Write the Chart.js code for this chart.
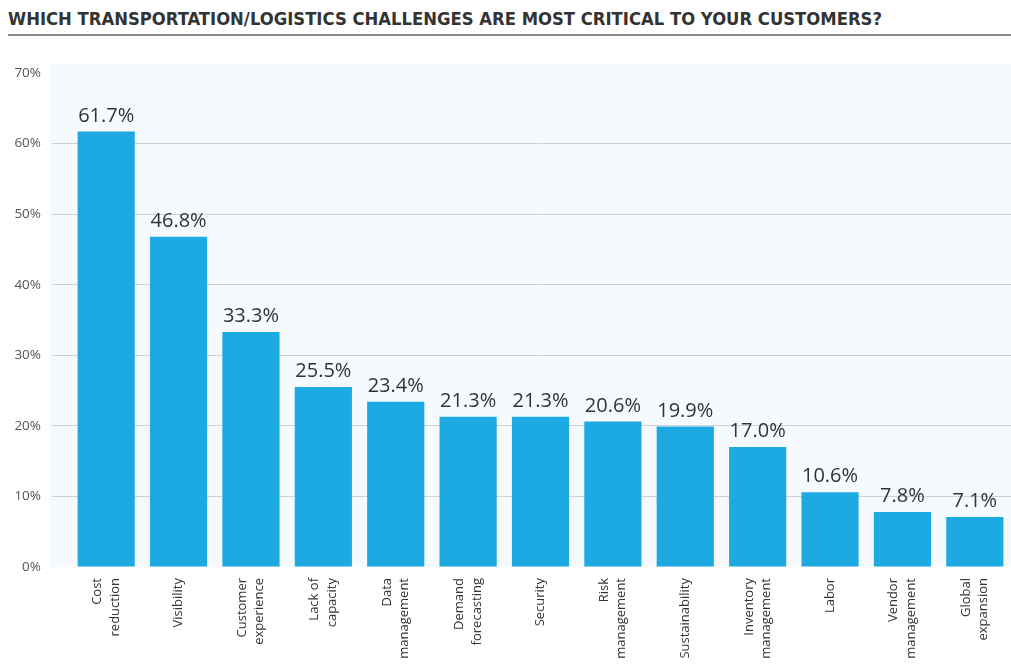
<!DOCTYPE html>
<html>
<head>
<meta charset="utf-8">
<script src="https://cdn.jsdelivr.net/npm/chart.js@4.4.0/dist/chart.umd.min.js"></script>
<style>
  body { margin: 0; background: #fff; width: 1011px; height: 667px; overflow: hidden; position: relative; }
  #title {
    position: absolute; left: 8px; top: 8px; right: 0;
    font-family: "Liberation Sans Narrow", "DejaVu Sans Condensed", sans-serif;
    font-weight: bold; font-size: 18.3px; color: #333; white-space: nowrap;
    padding-bottom: 5px; border-bottom: 2px solid #8a8a8a;
  }
  #wrap { position: absolute; left: 0; top: 0; width: 1011px; height: 667px; }
</style>
</head>
<body>
<div id="title">WHICH TRANSPORTATION/LOGISTICS CHALLENGES ARE MOST CRITICAL TO YOUR CUSTOMERS?</div>
<div id="wrap"><canvas id="chart"></canvas></div>
<script>
// categories as shown under the bars (two lines where the picture wraps)
var categories = [
  ["Cost", "reduction"],
  ["Visibility"],
  ["Customer", "experience"],
  ["Lack of", "capacity"],
  ["Data", "management"],
  ["Demand", "forecasting"],
  ["Security"],
  ["Risk", "management"],
  ["Sustainability"],
  ["Inventory", "management"],
  ["Labor"],
  ["Vendor", "management"],
  ["Global", "expansion"]
];
var percents = [61.7, 46.8, 33.3, 25.5, 23.4, 21.3, 21.3, 20.6, 19.9, 17.0, 10.6, 7.8, 7.1];
var yTicks = [0, 10, 20, 30, 40, 50, 60, 70];

var barColor = "#1daae2";
var font = "'Open Sans', sans-serif";

// light panel behind the plot
var panelPlugin = {
  id: "panel",
  beforeDraw: function(chart) {
    var ctx = chart.ctx, a = chart.chartArea;
    ctx.save();
    ctx.fillStyle = "#f6fafd";
    ctx.fillRect(a.left - 20, a.top - 9, a.right - a.left + 20, a.bottom - a.top + 9);
    ctx.restore();
  }
};

// value labels over each bar
var valueLabels = {
  id: "valueLabels",
  afterDatasetsDraw: function(chart) {
    var ctx = chart.ctx;
    var meta = chart.getDatasetMeta(0);
    ctx.save();
    ctx.font = "20px " + font;
    ctx.fillStyle = "#333";
    ctx.textAlign = "center";
    ctx.textBaseline = "alphabetic";
    meta.data.forEach(function(bar, i) {
      ctx.fillText(percents[i].toFixed(1) + "%", bar.x, bar.y - 10);
    });
    ctx.restore();
  }
};

// vertical category labels, lines centred on the bar
var categoryLabels = {
  id: "categoryLabels",
  afterDraw: function(chart) {
    var ctx = chart.ctx, xs = chart.scales.x;
    var lineGap = 17.5;
    ctx.save();
    ctx.font = "13px " + font;
    ctx.fillStyle = "#333";
    ctx.textAlign = "right";
    ctx.textBaseline = "middle";
    categories.forEach(function(lines, i) {
      var x = xs.getPixelForTick(i);
      ctx.save();
      ctx.translate(x, chart.chartArea.bottom + 11);
      ctx.rotate(-Math.PI / 2);
      lines.forEach(function(t, j) {
        ctx.fillText(t, 0, (j - (lines.length - 1) / 2) * lineGap);
      });
      ctx.restore();
    });
    ctx.restore();
  }
};

new Chart(document.getElementById("chart"), {
  type: "bar",
  data: {
    labels: categories,
    datasets: [{
      data: percents,
      backgroundColor: barColor,
      categoryPercentage: 1,
      barPercentage: 0.79
    }]
  },
  options: {
    responsive: true,
    maintainAspectRatio: false,
    animation: false,
    layout: { padding: { top: 73, left: 0, right: 0, bottom: 0 } },
    plugins: { legend: { display: false }, tooltip: { enabled: false } },
    scales: {
      x: {
        grid: { display: false },
        border: { display: false },
        ticks: { display: false },
        afterFit: function(scale) { scale.height = 100; }
      },
      y: {
        min: 0, max: 70,
        afterBuildTicks: function(scale) {
          scale.ticks = yTicks.map(function(v) { return { value: v }; });
        },
        border: { display: false },
        grid: {
          color: function(c) {
            var v = c.tick ? c.tick.value : 0;
            return (v === 0 || v === 70) ? "rgba(0,0,0,0)" : "#d0d2d4";
          },
          tickLength: 18,
          lineWidth: 1
        },
        ticks: {
          padding: 11,
          color: "#555",
          font: { family: font, size: 13.5 },
          callback: function(v) { return v + "%"; }
        },
        afterFit: function(scale) { scale.width = 70; }
      }
    }
  },
  plugins: [panelPlugin, valueLabels, categoryLabels]
});
</script>
</body>
</html>
